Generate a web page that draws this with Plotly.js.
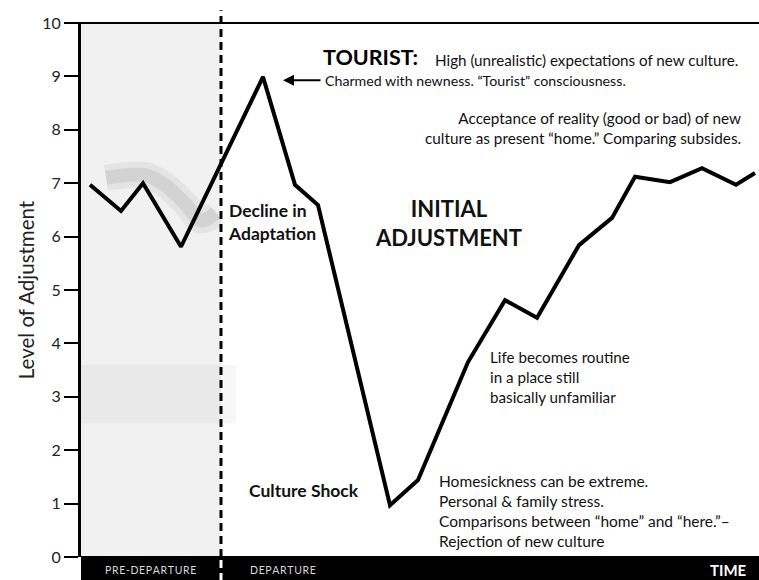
<!DOCTYPE html>
<html>
<head>
<meta charset="utf-8">
<script src="https://cdn.plot.ly/plotly-3.0.1.min.js"></script>
<style>html,body{margin:0;padding:0;background:#fff;}#chart{width:759px;height:580px;}</style>
</head>
<body>
<div id="chart"></div>
<script>
// ---- data ----
var timeX = [0.9, 4.0, 6.2, 10.0, 18.2, 21.4, 23.7, 30.9, 33.7, 38.7, 42.4, 45.6, 49.8, 53.1, 55.4, 58.9, 62.1, 65.5, 67.4];
var adjustmentY = [6.97, 6.48, 7.00, 5.81, 8.99, 6.97, 6.59, 0.97, 1.44, 3.65, 4.81, 4.48, 5.84, 6.35, 7.12, 7.02, 7.28, 6.97, 7.19];
var shadowX = [2.5, 4.5, 6.5, 8.5, 10.5, 12.0, 13.5];
var shadowY = [7.1, 7.15, 7.15, 6.95, 6.6, 6.3, 6.45];
var departureX = 14;
var yTicks = [0, 1, 2, 3, 4, 5, 6, 7, 8, 9, 10];
var yTickLabels = ['0', '1', '2', '3', '4', '5', '6', '7', '8', '9', '10'];
var xMax = 67.8;

var FONT = 'Lato, "Open Sans", sans-serif';
function spaced(s) { return s.split('').join('\u200A'); }

var traces = [
  { x: shadowX, y: shadowY, mode: 'lines', line: { color: 'rgba(0,0,0,0.05)', width: 26, shape: 'spline' }, hoverinfo: 'skip', showlegend: false },
  { x: shadowX, y: shadowY, mode: 'lines', line: { color: 'rgba(0,0,0,0.07)', width: 14, shape: 'spline' }, hoverinfo: 'skip', showlegend: false },
  { x: timeX, y: adjustmentY, mode: 'lines', line: { color: '#000', width: 4 }, hoverinfo: 'skip', showlegend: false, cliponaxis: false }
];

function note(text, x, y, size, opts) {
  var a = { text: text, x: x, y: y, xref: 'x', yref: 'y', showarrow: false,
    xanchor: 'left', yanchor: 'middle', align: 'left', font: { family: FONT, size: size, color: '#111' } };
  for (var k in (opts || {})) a[k] = opts[k];
  return a;
}

var annotations = [
  note('<b>TOURIST:</b>', 24.0, 9.37, 21.5, { font: { family: FONT, size: 21.5, color: '#000' } }),
  note('High (unrealistic) expectations of new culture.', 35.2, 9.3, 15.2),
  note('Charmed with newness. \u201CTourist\u201D consciousness.', 24.2, 8.93, 14.2),
  { text: '', x: 20.2, y: 8.93, ax: 24.1, ay: 8.93, axref: 'x', ayref: 'y', xref: 'x', yref: 'y',
    showarrow: true, arrowhead: 2, arrowsize: 1.1, arrowwidth: 2, arrowcolor: '#000' },
  note('Acceptance of reality (good or bad) of new<br>culture as present \u201Chome.\u201D Comparing subsides.', 66.2, 8.03, 15.3, { xanchor: 'right', align: 'right' }),
  note('<b>Decline in</b><br><b>Adaptation</b>', 14.5, 6.27, 17.5),
  note('<b>INITIAL</b><br><b>ADJUSTMENT</b>', 36.7, 6.26, 22, { xanchor: 'center', align: 'center' }),
  note('Life becomes routine<br>in a place still<br>basically unfamiliar', 40.7, 3.37, 15.2),
  note('<b>Culture Shock</b>', 16.6, 1.24, 17.5),
  note('Homesickness can be extreme.<br>Personal &amp; family stress.<br>Comparisons between \u201Chome\u201D and \u201Chere.\u201D\u2013<br>Rejection of new culture', 35.6, 0.87, 15.5),
  { text: spaced('PRE-DEPARTURE'), x: 0.103, y: -0.0243, xref: 'paper', yref: 'paper', showarrow: false,
    xanchor: 'center', yanchor: 'middle', font: { family: FONT, size: 10.5, color: '#d8d8d8' } },
  { text: spaced('DEPARTURE'), x: 0.246, y: -0.0243, xref: 'paper', yref: 'paper', showarrow: false,
    xanchor: 'left', yanchor: 'middle', font: { family: FONT, size: 10.5, color: '#d8d8d8' } },
  { text: '<b>TIME</b>', x: 0.985, y: -0.0243, xref: 'paper', yref: 'paper', showarrow: false,
    xanchor: 'right', yanchor: 'middle', font: { family: FONT, size: 15, color: '#fff' } }
];

var shapes = [
  { type: 'rect', xref: 'x', yref: 'paper', x0: 0, x1: departureX, y0: 0, y1: 1,
    fillcolor: 'rgba(0,0,0,0.055)', line: { width: 0 }, layer: 'below' },
  { type: 'rect', xref: 'x', yref: 'y', x0: 0, x1: departureX + 1.5, y0: 2.5, y1: 3.6,
    fillcolor: 'rgba(0,0,0,0.03)', line: { width: 0 }, layer: 'below' },
  { type: 'rect', xref: 'paper', yref: 'paper', x0: 0, x1: 1, y0: -0.045, y1: 0.002,
    fillcolor: '#000', line: { width: 0 }, layer: 'above' },
  { type: 'line', xref: 'paper', yref: 'paper', x0: -0.021, x1: 1, y0: 1, y1: 1,
    line: { color: '#000', width: 2 } },
  { type: 'line', xref: 'x', yref: 'paper', x0: departureX, x1: departureX, y0: 0, y1: 1.024,
    line: { color: '#000', width: 3, dash: '8px,5px' }, layer: 'above' },
  { type: 'line', xref: 'x', yref: 'paper', x0: departureX, x1: departureX, y0: -0.045, y1: 0,
    line: { color: '#fff', width: 3, dash: '8px,5px' }, layer: 'above' }
];

var layout = {
  width: 759, height: 580,
  margin: { l: 81, r: 0, t: 23, b: 23, pad: 0 },
  paper_bgcolor: '#fff', plot_bgcolor: '#fff',
  showlegend: false,
  xaxis: { range: [0, xMax], showgrid: false, zeroline: false, showline: false, showticklabels: false, ticks: '', fixedrange: true },
  yaxis: {
    range: [0, 10], tickvals: yTicks, ticktext: yTickLabels,
    ticks: 'outside', ticklen: 14, tickwidth: 2, tickcolor: '#000',
    showline: true, linewidth: 3, linecolor: '#000', showgrid: false, zeroline: false,
    tickfont: { family: FONT, size: 16, color: '#222' },
    title: { text: 'Level of Adjustment', font: { family: FONT, size: 20.5, color: '#222' }, standoff: 3 },
    fixedrange: true
  },
  annotations: annotations,
  shapes: shapes
};

Plotly.newPlot('chart', traces, layout, { staticPlot: true, displayModeBar: false });
</script>
</body>
</html>
